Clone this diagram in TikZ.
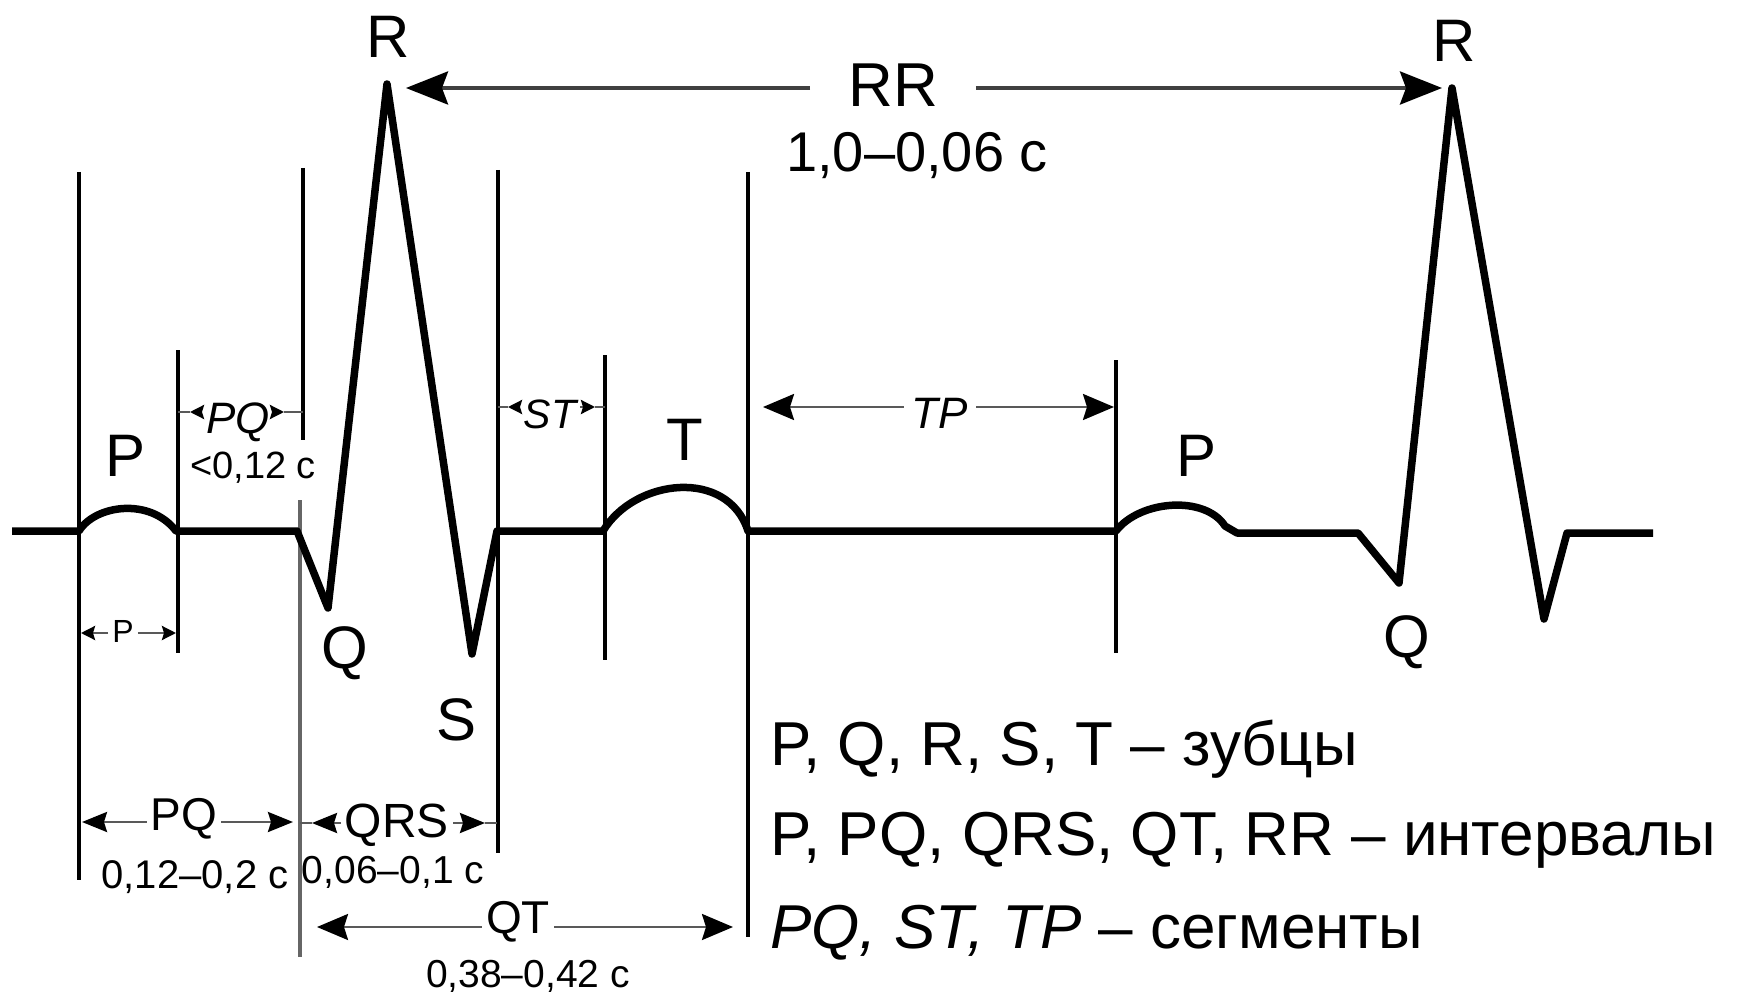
\documentclass[tikz,border=0pt]{standalone}
\usepackage{fontspec}
\setmainfont{Liberation Sans}
\usetikzlibrary{arrows.meta}
\newcommand\fsz[1]{\fontsize{#1pt}{#1pt}\selectfont}
\begin{document}
\begin{tikzpicture}[x=1pt,y=-1pt,
  vline/.style={line width=4pt, draw=black},
  vgray/.style={line width=4pt, draw=black!60},
  trace/.style={line width=7.5pt, line join=round, draw=black},
  dim/.style={line width=2.6pt, draw=black!65},
  rrline/.style={line width=3.8pt, draw=black!75},
  lbl/.style={inner sep=0pt, inner xsep=4pt, anchor=base},
  wave/.style={lbl, font=\fsz{60}},
  ival/.style={lbl, font=\fsz{46}},
  seg/.style={lbl, font=\fsz{44}\itshape},
  num/.style={lbl, font=\fsz{39}},
  legend/.style={inner sep=0pt, anchor=base west, font=\fsz{62}},
  tipS/.style={-{Stealth[length=14pt,width=14pt,inset=2pt,color=black]}},
  tipM/.style={-{Stealth[length=25pt,width=20pt,inset=3pt,color=black]}},
  tipL/.style={-{Stealth[length=31pt,width=26pt,inset=4pt,color=black]}},
  tipXL/.style={-{Stealth[length=42pt,width=33pt,inset=6pt,color=black]}}
]
\useasboundingbox (0,0) rectangle (1742,992);

% ---------- vertical marker lines ----------
\coordinate (L1t) at (79,172);   \coordinate (L1b) at (79,880);
\coordinate (L2t) at (178,350);  \coordinate (L2b) at (178,653);
\coordinate (L3t) at (303,168);  \coordinate (L3m) at (303,440);
\coordinate (L3n) at (300,500);  \coordinate (L3b) at (300,957);
\coordinate (L4t) at (498,170);  \coordinate (L4b) at (498,853);
\coordinate (L5t) at (605,355);  \coordinate (L5b) at (605,660);
\coordinate (L6t) at (748,172);  \coordinate (L6b) at (748,937);
\coordinate (L7t) at (1116,360); \coordinate (L7b) at (1116,653);
\draw[vline] (L1t) -- (L1b);
\draw[vline] (L2t) -- (L2b);
\draw[vline] (L3t) -- (L3m);
\draw[vgray] (L3n) -- (L3b);
\draw[vline] (L4t) -- (L4b);
\draw[vline] (L5t) -- (L5b);
\draw[vline] (L6t) -- (L6b);
\draw[vline] (L7t) -- (L7b);

% ---------- ECG trace ----------
\draw[trace] (12,531) -- (79,531)
  .. controls (95,505) and (150,497) .. (176,531)
  -- (297,531) -- (328,608) -- (387,84) -- (472,654) -- (497,531)
  -- (603,531)
  .. controls (635,478) and (728,468) .. (748,531)
  -- (1116,531)
  .. controls (1140,500) and (1205,495) .. (1225,526)
  -- (1237,533) -- (1358,533) -- (1399,583) -- (1452,88)
  -- (1544,619) -- (1567,533) -- (1653,533);

% ---------- wave labels ----------
\node[wave] (R1) at (388,58) {R};
\node[wave] (R2) at (1454,62) {R};
\node[wave] (P1) at (126,476) {P};
\node[wave] (Q1) at (345,668) {Q};
\node[wave] (S1) at (457,740) {S};
\node[wave] (T1) at (685,460) {T};
\node[wave] (P2) at (1196,476) {P};
\node[wave] (Q2) at (1407,657) {Q};

% ---------- RR interval ----------
\node[lbl, font=\fsz{62}, inner xsep=38pt] (RR) at (893,107) {RR};
\node[lbl, font=\fsz{56}] (RRv) at (917,172) {1,0–0,06 c};
\coordinate (RRl) at (406,88);
\coordinate (RRr) at (1442,88);
\draw[rrline, tipXL] (RR.west |- RRl) -- (RRl);
\draw[rrline, tipXL] (RR.east |- RRr) -- (RRr);

% ---------- P interval (small) ----------
\node[lbl, font=\fsz{32}] (Pi) at (123,642) {P};
\coordinate (Pil) at (81,633);
\coordinate (Pir) at (176,633);
\draw[dim, tipS] (Pi.west |- Pil) -- (Pil);
\draw[dim, tipS] (Pi.east |- Pir) -- (Pir);

% ---------- PQ segment ----------
\node[lbl, font=\fsz{44}\itshape] (PQs) at (238,433) {PQ};
\node[lbl, font=\fsz{38}] (PQsv) at (253,478) {<0,12 c};
\coordinate (PQsl) at (190,412);  \coordinate (PQslv) at (178,412);
\coordinate (PQsr) at (284,412);  \coordinate (PQsrv) at (303,412);
\draw[dim, tipS] (PQs.west |- PQsl) -- (PQsl);
\draw[dim] (PQsl) -- (PQslv);
\draw[dim, tipS] (PQs.east |- PQsr) -- (PQsr);
\draw[dim] (PQsr) -- (PQsrv);

% ---------- ST segment ----------
\node[lbl, font=\fsz{41}\itshape] (ST) at (550,428) {ST};
\coordinate (STl) at (508,407);  \coordinate (STlv) at (498,407);
\coordinate (STr) at (595,407);  \coordinate (STrv) at (605,407);
\draw[dim, tipS] (ST.west |- STl) -- (STl);
\draw[dim] (STl) -- (STlv);
\draw[dim, tipS] (ST.east |- STr) -- (STr);
\draw[dim] (STr) -- (STrv);

% ---------- TP segment ----------
\node[seg, inner xsep=8pt] (TP) at (940,428) {TP};
\coordinate (TPl) at (763,407);
\coordinate (TPr) at (1114,407);
\draw[dim, tipL] (TP.west |- TPl) -- (TPl);
\draw[dim, tipL] (TP.east |- TPr) -- (TPr);

% ---------- PQ interval ----------
\node[ival] (PQ) at (184,830) {PQ};
\node[lbl, font=\fsz{40}] (PQv) at (195,888) {0,12–0,2 c};
\coordinate (PQl) at (82,822);
\coordinate (PQr) at (293,822);
\draw[dim, tipM] (PQ.west |- PQl) -- (PQl);
\draw[dim, tipM] (PQ.east |- PQr) -- (PQr);

% ---------- QRS interval ----------
\node[lbl, font=\fsz{48}] (QRS) at (397,837) {QRS};
\node[num] (QRSv) at (393,883) {0,06–0,1 c};
\coordinate (QRSl) at (312,823);  \coordinate (QRSlv) at (300,823);
\coordinate (QRSr) at (485,823);  \coordinate (QRSrv) at (497,823);
\draw[dim, tipM] (QRS.west |- QRSl) -- (QRSl);
\draw[dim] (QRSl) -- (QRSlv);
\draw[dim, tipM] (QRS.east |- QRSr) -- (QRSr);
\draw[dim] (QRSr) -- (QRSrv);

% ---------- QT interval ----------
\node[ival] (QT) at (518,933) {QT};
\node[num] (QTv) at (528,987) {0,38–0,42 c};
\coordinate (QTl) at (317,927);
\coordinate (QTr) at (733,927);
\draw[dim, tipL] (QT.west |- QTl) -- (QTl);
\draw[dim, tipL] (QT.east |- QTr) -- (QTr);

% ---------- legend ----------
\node[legend] (leg1) at (770,765) {P, Q, R, S, T – зубцы};
\node[legend] (leg2) at (770,855) {P, PQ, QRS, QT, RR – интервалы};
\node[legend] (leg3) at (770,948) {\textit{PQ, ST, TP} – сегменты};
\end{tikzpicture}
\end{document}
